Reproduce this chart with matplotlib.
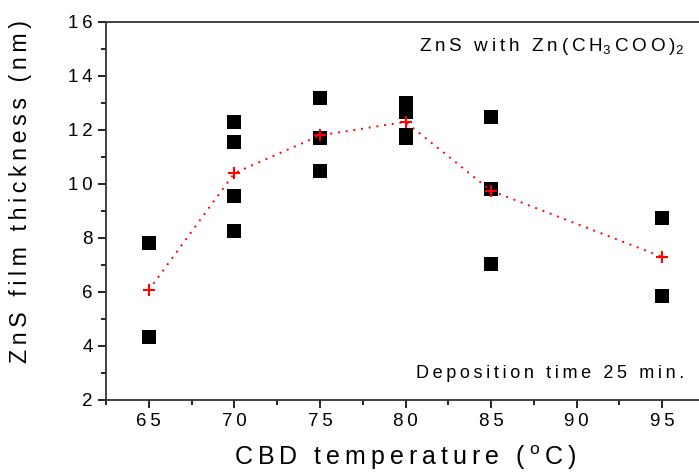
import numpy as np
import matplotlib
matplotlib.use("Agg")
import matplotlib.pyplot as plt
from matplotlib.ticker import MultipleLocator, FuncFormatter

plt.rcParams["font.family"] = ["Liberation Sans", "DejaVu Sans"]
plt.rcParams["mathtext.fontset"] = "custom"
plt.rcParams["mathtext.rm"] = "Liberation Sans"

# measured thickness per run
temp_pts = [65, 65, 70, 70, 70, 70, 75, 75, 75, 80, 80, 80, 80, 85, 85, 85, 95, 95]
thick_pts = [7.8, 4.35, 12.3, 11.55, 9.55, 8.27, 13.2, 11.7, 10.5,
             13.0, 12.65, 11.8, 11.7, 12.5, 9.8, 7.05, 8.75, 5.85]

# mean thickness per temperature
temp_avg = [65, 70, 75, 80, 85, 95]
thick_avg = [6.07, 10.4, 11.8, 12.3, 9.75, 7.3]

TS = "\u2009"  # thin space, mimics the wide letter spacing of the original


def spaced(s):
    return TS.join(s)


fig = plt.figure(figsize=(6.99, 4.74), dpi=100)
ax = fig.add_axes([106 / 699, 1 - 400 / 474, (705 - 106) / 699, (400 - 22) / 474])

ax.scatter(temp_pts, thick_pts, marker="s", s=100, color="black", lw=0, zorder=2)
ax.plot(temp_avg, thick_avg, ls=(0, (1, 3)), lw=1.4, color="red",
        marker="+", ms=9, mew=1.5, zorder=3)

ax.set_xlim(62.5, 97.5)
ax.set_ylim(2, 16)
ax.xaxis.set_major_locator(MultipleLocator(5))
ax.xaxis.set_minor_locator(MultipleLocator(2.5))
ax.yaxis.set_major_locator(MultipleLocator(2))
ax.yaxis.set_minor_locator(MultipleLocator(1))
fmt = FuncFormatter(lambda v, p: spaced(f"{v:.0f}"))
ax.xaxis.set_major_formatter(fmt)
ax.yaxis.set_major_formatter(fmt)
ax.tick_params(which="major", direction="out", length=6, width=1.2, labelsize=13.5)
ax.tick_params(which="minor", direction="out", length=3.5, width=1.2)
ax.tick_params(top=False, right=False, which="both")
for sp in ax.spines.values():
    sp.set_linewidth(1.3)
    sp.set_color("#333333")

fig.text(405 / 699, 1 - 458 / 474,
         spaced("CBD temperature (") + TS + "$^\\mathregular{o}$" + TS + spaced("C)"),
         ha="center", va="center", fontsize=18)
fig.text(21 / 699, 1 - 192 / 474, spaced("ZnS film thickness (nm)"),
         ha="center", va="center", rotation=90, fontsize=16.7)

ax.text(0.965, 0.935,
        spaced("ZnS with Zn(CH") + "$_3$" + TS + spaced("COO)") + "$_2$",
        transform=ax.transAxes, ha="right", va="center", fontsize=13.6)
ax.text(0.965, 0.07, spaced("Deposition time 25 min."), transform=ax.transAxes,
        ha="right", va="center", fontsize=13)

fig.savefig("out.png", dpi=100)
